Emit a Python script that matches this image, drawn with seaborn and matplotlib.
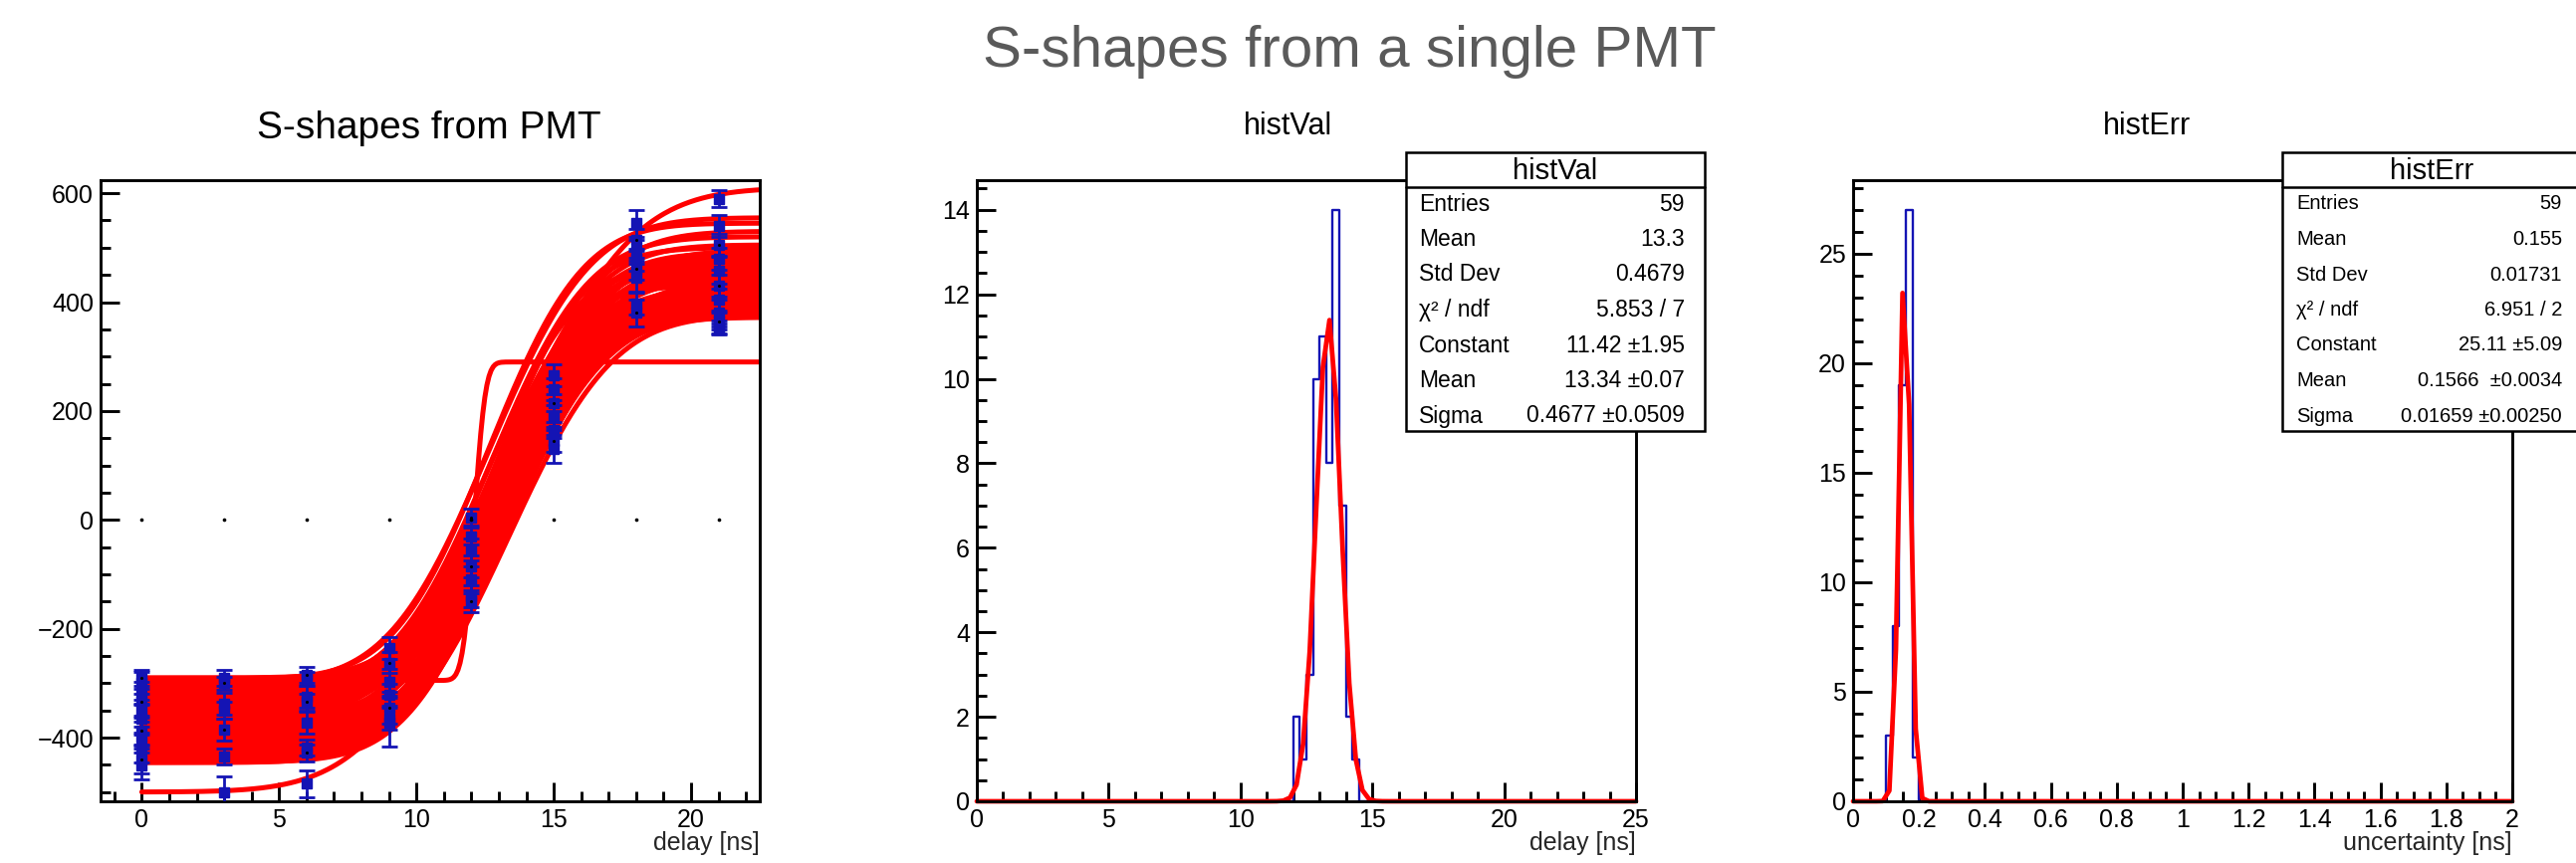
import math
import numpy as np
import pandas as pd
import matplotlib
matplotlib.use("Agg")
import matplotlib.pyplot as plt
from matplotlib.patches import Rectangle
from matplotlib.lines import Line2D
from matplotlib.ticker import MultipleLocator, FormatStrFormatter
import seaborn as sns

# ---------------- data ----------------
delays = [0, 3, 6, 9, 12, 15, 18, 21]

# S-curve fit parameters (one per fitted scan)
curve_low = [-295, -300, -292, -310, -330, -298, -345, -320, -360, -295,
             -385, -305, -340, -375, -315, -500, -350, -395, -302, -330,
             -410, -365, -290, -435, -325, -380, -355, -400, -312, -420,
             -338, -440, -370, -300, -425, -348, -390, -318, -445, -362,
             -405, -335, -430, -378, -308, -415, -352, -438, -386, -326,
             -442, -368, -418, -340, -432, -392, -446, -405, -440]
curve_high = [290, 470, 545, 520, 500, 555, 480, 460, 505, 430,
              490, 470, 445, 530, 415, 610, 475, 455, 400, 485,
              440, 465, 390, 495, 420, 450, 410, 470, 380, 435,
              460, 480, 395, 425, 375, 445, 405, 470, 420, 385,
              455, 400, 440, 375, 415, 390, 430, 465, 380, 405,
              425, 395, 378, 410, 390, 372, 400, 385, 376]
curve_mid = [12.10, 12.55, 12.60, 12.70, 12.75, 12.65, 12.80, 12.70, 12.85, 12.60,
             12.90, 12.75, 12.85, 12.95, 12.80, 13.00, 12.95, 13.00, 12.80, 12.95,
             13.05, 13.00, 12.75, 13.15, 12.95, 13.05, 13.00, 13.10, 12.90, 13.15,
             13.00, 13.20, 13.05, 12.90, 13.20, 13.05, 13.10, 13.00, 13.25, 13.10,
             13.15, 13.00, 13.25, 13.15, 12.95, 13.20, 13.10, 13.25, 13.20, 13.05,
             13.30, 13.15, 13.25, 13.10, 13.30, 13.20, 13.30, 13.25, 13.35]
curve_width = [0.32, 2.6, 2.7, 2.8, 2.6, 2.9, 2.7, 2.6, 2.8, 2.5,
               2.7, 2.8, 2.6, 2.9, 2.7, 3.5, 2.8, 2.7, 2.6, 2.9,
               2.7, 2.8, 2.6, 2.9, 2.7, 2.8, 2.6, 2.8, 2.7, 2.9,
               2.8, 2.9, 2.7, 2.8, 2.8, 2.9, 2.7, 3.0, 2.8, 2.7,
               2.9, 2.8, 3.0, 2.7, 2.9, 2.8, 2.9, 3.0, 2.8, 2.9,
               3.0, 2.8, 2.9, 3.0, 2.9, 2.8, 3.0, 2.9, 3.0]

# measured points with uncertainties
point_x = [0]*11 + [3]*7 + [6]*8 + [9]*7 + [12]*7 + [15]*7 + [18]*8 + [21]*11
point_y = [-290, -300, -318, -335, -350, -365, -388, -400, -420, -440, -452,
           -290, -300, -338, -350, -385, -435, -500,
           -285, -292, -325, -335, -372, -418, -428, -485,
           -235, -262, -298, -322, -345, -365, -372,
           5, -30, -55, -85, -110, -140, -150,
           265, 240, 215, 190, 165, 145, 130,
           545, 515, 495, 478, 462, 445, 398, 380,
           590, 540, 505, 480, 458, 430, 405, 380, 365, 355, 350]
point_err = [15, 20, 20, 25, 20, 25, 25, 20, 25, 25, 25,
             15, 12, 20, 15, 20, 15, 28,
             15, 12, 20, 15, 20, 15, 15, 25,
             20, 20, 25, 20, 30, 20, 45,
             15, 15, 20, 20, 25, 20, 20,
             20, 20, 15, 20, 15, 20, 25,
             25, 20, 20, 20, 20, 25, 20, 25,
             15, 20, 20, 20, 25, 20, 20, 25, 15, 12, 10]

# histVal: fitted delays
val_centers = [12.125, 12.375, 12.625, 12.875, 13.125, 13.375, 13.625, 13.875, 14.125, 14.375]
val_counts = [2, 1, 3, 10, 11, 8, 14, 7, 2, 1]
val_fit = {"constant": 11.42, "mean": 13.34, "sigma": 0.4677}
val_stats = [("Entries", "59"), ("Mean", "13.3"), ("Std Dev", "0.4679"),
             ("χ² / ndf", "5.853 / 7"), ("Constant", "11.42 ±1.95"),
             ("Mean", "13.34 ±0.07"), ("Sigma", "0.4677 ±0.0509")]

# histErr: uncertainties of fitted delays
err_centers = [0.11, 0.13, 0.15, 0.17, 0.19]
err_counts = [3, 8, 19, 27, 2]
err_fit = {"constant": 25.11, "mean": 0.1566, "sigma": 0.01659}
err_stats = [("Entries", "59"), ("Mean", "0.155"), ("Std Dev", "0.01731"),
             ("χ² / ndf", "6.951 / 2"), ("Constant", "25.11 ±5.09"),
             ("Mean", "0.1566  ±0.0034"), ("Sigma", "0.01659 ±0.00250")]

# ---------------- style ----------------
sns.set_theme(style="ticks")
plt.rcParams["font.family"] = ["Liberation Sans", "DejaVu Sans"]
plt.rcParams["axes.unicode_minus"] = True

W, H = 2587, 867
fig = plt.figure(figsize=(W / 100, H / 100), dpi=100)
fig.patch.set_facecolor("white")


def fx(px):
    return px / W


def fy(py):
    return 1 - py / H


BLUE = "#1414b4"
RED = "#ff0000"
TICK_FS = 18


def make_axes(left_px):
    ax = fig.add_axes([fx(left_px), fy(805), 662 / W, 624 / H])
    ax.set_facecolor("white")
    for s in ax.spines.values():
        s.set_visible(True)
        s.set_linewidth(2.1)
        s.set_color("black")
    ax.tick_params(which="both", direction="in", top=False, right=False,
                   width=2.1, colors="black", labelsize=TICK_FS, pad=5)
    ax.tick_params(which="major", length=14)
    ax.tick_params(which="minor", length=7)
    return ax


# ---------------- left panel: S-curves ----------------
ax1 = make_axes(101)
xs = np.linspace(0, 22.5, 300)
rows = []
for i, (lo, hi, mu, w) in enumerate(zip(curve_low, curve_high, curve_mid, curve_width)):
    ys = [lo + (hi - lo) * 0.5 * (1 + math.erf((x - mu) / (math.sqrt(2) * w))) for x in xs]
    rows.append(pd.DataFrame({"curve": i, "x": xs, "y": ys}))
curves = pd.concat(rows, ignore_index=True)
sns.lineplot(data=curves, x="x", y="y", units="curve", estimator=None,
             color=RED, lw=3.6, sort=False, legend=False, ax=ax1, zorder=2)
ax1.errorbar(point_x, point_y, yerr=point_err, fmt="s", color=BLUE, ms=7.5,
             elinewidth=2.0, capsize=6, capthick=2.0, zorder=3)
sns.scatterplot(x=point_x[::3], y=point_y[::3], color="black", s=5, marker="o",
                linewidth=0, ax=ax1, zorder=4)
sns.scatterplot(x=delays, y=[0] * len(delays), color="black", s=7, marker="o",
                linewidth=0, ax=ax1, zorder=4)
ax1.set_xlim(-1.5, 22.5)
ax1.set_ylim(-517, 624)
ax1.xaxis.set_major_locator(MultipleLocator(5))
ax1.xaxis.set_minor_locator(MultipleLocator(1))
ax1.yaxis.set_major_locator(MultipleLocator(200))
ax1.yaxis.set_minor_locator(MultipleLocator(50))
ax1.set_xlabel("")
ax1.set_ylabel("")
ax1.text(1.0, -0.067, "delay [ns]", transform=ax1.transAxes, ha="right",
         va="center", fontsize=TICK_FS)

# ---------------- middle panel: histVal ----------------
ax2 = make_axes(981)
sns.histplot(x=val_centers, weights=val_counts, binwidth=0.25, binrange=(0, 25),
             element="step", fill=False, color=BLUE, lw=1.7, ax=ax2, zorder=2)
gx = np.concatenate([[0.0], np.arange(0.125, 25, 0.25), [25.0]])
gy = val_fit["constant"] * np.exp(-0.5 * ((gx - val_fit["mean"]) / val_fit["sigma"]) ** 2)
sns.lineplot(x=gx, y=gy, color=RED, lw=3.4, sort=False, ax=ax2, zorder=2.2, clip_on=False)
ax2.set_xlim(0, 25)
ax2.set_ylim(0, 14.7)
ax2.xaxis.set_major_locator(MultipleLocator(5))
ax2.xaxis.set_minor_locator(MultipleLocator(1))
ax2.yaxis.set_major_locator(MultipleLocator(2))
ax2.yaxis.set_minor_locator(MultipleLocator(0.5))
ax2.set_xlabel("")
ax2.set_ylabel("")
ax2.text(1.0, -0.067, "delay [ns]", transform=ax2.transAxes, ha="right",
         va="center", fontsize=TICK_FS)

# ---------------- right panel: histErr ----------------
ax3 = make_axes(1861)
sns.histplot(x=err_centers, weights=err_counts, binwidth=0.02, binrange=(0, 2),
             element="step", fill=False, color=BLUE, lw=1.7, ax=ax3, zorder=2)
ex = np.concatenate([[0.0], np.arange(0.01, 2, 0.02), [2.0]])
ey = err_fit["constant"] * np.exp(-0.5 * ((ex - err_fit["mean"]) / err_fit["sigma"]) ** 2)
sns.lineplot(x=ex, y=ey, color=RED, lw=3.4, sort=False, ax=ax3, zorder=2.2, clip_on=False)
ax3.set_xlim(0, 2)
ax3.set_ylim(0, 28.35)
ax3.xaxis.set_major_locator(MultipleLocator(0.2))
ax3.xaxis.set_minor_locator(MultipleLocator(0.05))
ax3.xaxis.set_major_formatter(FormatStrFormatter("%g"))
ax3.yaxis.set_major_locator(MultipleLocator(5))
ax3.yaxis.set_minor_locator(MultipleLocator(1))
ax3.set_xlabel("")
ax3.set_ylabel("")
ax3.text(1.0, -0.067, "uncertainty [ns]", transform=ax3.transAxes, ha="right",
         va="center", fontsize=TICK_FS)

# ---------------- titles ----------------
fig.text(fx(1355), fy(52), "S-shapes from a single PMT", ha="center", va="center",
         fontsize=42, color="#5a5a5a")
fig.text(fx(431), fy(129), "S-shapes from PMT", ha="center", va="center",
         fontsize=28, color="black")
fig.text(fx(1293), fy(127), "histVal", ha="center", va="center",
         fontsize=22, color="black")
fig.text(fx(2156), fy(127), "histErr", ha="center", va="center",
         fontsize=22, color="black")


# ---------------- stat boxes ----------------
def stat_box(x0, title, rows, fs_row, lab_dx, val_dx):
    top, sep, bottom, width = 153, 188, 433, 300
    rect = Rectangle((fx(x0), fy(bottom)), width / W, (bottom - top) / H,
                     transform=fig.transFigure, facecolor="white",
                     edgecolor="black", lw=1.8, zorder=10)
    fig.add_artist(rect)
    fig.add_artist(Line2D([fx(x0), fx(x0 + width)], [fy(sep), fy(sep)],
                          transform=fig.transFigure, color="black", lw=1.8, zorder=11))
    fig.text(fx(x0 + width / 2), fy((top + sep) / 2 + 1), title, ha="center",
             va="center", fontsize=21, color="black", zorder=12)
    for k, (lab, val) in enumerate(rows):
        yy = fy(205 + 35.5 * k)
        fig.text(fx(x0 + lab_dx), yy, lab, ha="left", va="center",
                 fontsize=fs_row, color="black", zorder=12)
        fig.text(fx(x0 + val_dx), yy, val, ha="right", va="center",
                 fontsize=fs_row, color="black", zorder=12)


stat_box(1412, "histVal", val_stats, 16.5, 13, 280)
stat_box(2292, "histErr", err_stats, 14.5, 14, 281)

fig.savefig("out.png", dpi=100, facecolor="white")
